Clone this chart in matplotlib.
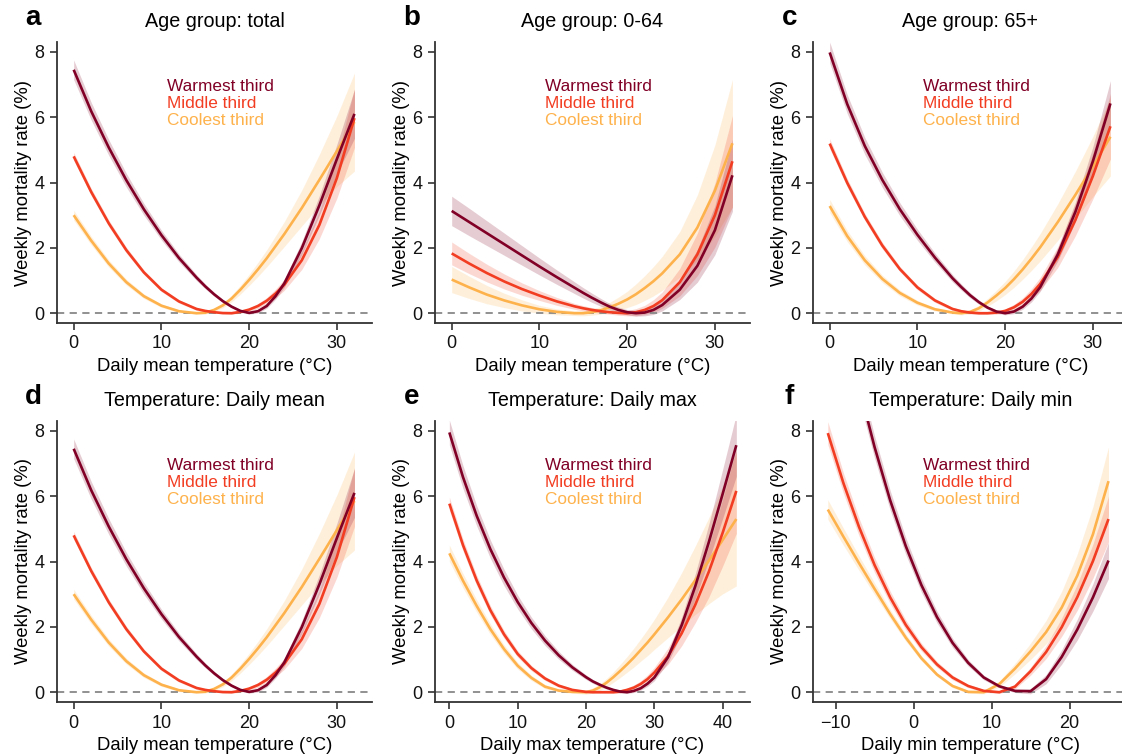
import numpy as np
import matplotlib
matplotlib.use("Agg")
import matplotlib.pyplot as plt

plt.rcParams['font.family'] = ['Liberation Sans', 'DejaVu Sans']

# ---------------- data ----------------
series_names = ["Warmest third", "Middle third", "Coolest third"]
series_colors = ["#800026", "#f23d22", "#feb24c"]

# Daily mean temperature grid (panels a-d), finer around the minima
t_mean = [0, 2, 4, 6, 8, 10, 12, 14, 15, 16, 17, 18, 19, 20, 21, 22, 23, 24, 26, 28, 30, 32]

# Age group total / daily mean (panels a and d)
tot_warm = [7.45, 6.18, 5.07, 4.07, 3.18, 2.39, 1.69, 1.09, 0.82, 0.58, 0.37, 0.20, 0.07, 0.01, 0.06, 0.22,
            0.52, 0.91, 1.99, 3.30, 4.72, 6.10]
tot_mid = [4.80, 3.71, 2.75, 1.93, 1.25, 0.72, 0.36, 0.13, 0.07, 0.03, 0.005, 0.0, 0.04, 0.11, 0.22, 0.38,
           0.60, 0.87, 1.62, 2.70, 4.14, 5.97]
tot_cool = [3.0, 2.22, 1.52, 0.95, 0.52, 0.23, 0.06, 0.0, 0.015, 0.1, 0.24, 0.45, 0.72, 1.02, 1.34, 1.68,
            2.05, 2.42, 3.22, 4.08, 4.96, 5.85]
tot_warm_ci = [0.3, 0.27, 0.24, 0.21, 0.18, 0.15, 0.12, 0.09, 0.075, 0.06, 0.05, 0.04, 0.04, 0.04, 0.055, 0.07,
               0.095, 0.12, 0.2, 0.3, 0.45, 0.75]
tot_mid_ci = [0.12, 0.11, 0.1, 0.09, 0.07, 0.06, 0.05, 0.04, 0.035, 0.03, 0.03, 0.03, 0.04, 0.05, 0.075, 0.1,
              0.135, 0.17, 0.28, 0.42, 0.62, 0.9]
tot_cool_ci = [0.15, 0.13, 0.11, 0.09, 0.07, 0.05, 0.04, 0.03, 0.04, 0.05, 0.075, 0.1, 0.135, 0.17, 0.215, 0.26,
               0.32, 0.38, 0.55, 0.78, 1.08, 1.5]

# Age group 0-64 (panel b)
y064_warm = [3.13, 2.79, 2.45, 2.11, 1.77, 1.43, 1.10, 0.78, 0.62, 0.47, 0.33, 0.20, 0.10, 0.03, 0.0, 0.02,
             0.10, 0.25, 0.72, 1.45, 2.54, 4.22]
y064_mid = [1.83, 1.52, 1.23, 0.97, 0.74, 0.54, 0.36, 0.21, 0.15, 0.10, 0.06, 0.03, 0.01, 0.0, 0.03, 0.10,
            0.22, 0.40, 0.95, 1.80, 3.00, 4.65]
y064_cool = [1.03, 0.79, 0.57, 0.39, 0.24, 0.12, 0.04, 0.0, 0.0, 0.03, 0.09, 0.18, 0.29, 0.42, 0.58, 0.77,
             0.98, 1.22, 1.80, 2.62, 3.75, 5.2]
y064_warm_ci = [0.45, 0.42, 0.38, 0.34, 0.3, 0.26, 0.22, 0.18, 0.16, 0.14, 0.12, 0.1, 0.09, 0.08, 0.09, 0.1,
                0.14, 0.18, 0.3, 0.5, 0.75, 1.1]
y064_mid_ci = [0.35, 0.31, 0.27, 0.23, 0.19, 0.15, 0.12, 0.09, 0.08, 0.07, 0.065, 0.06, 0.07, 0.08, 0.11, 0.14,
               0.195, 0.25, 0.42, 0.65, 0.98, 1.4]
y064_cool_ci = [0.4, 0.34, 0.28, 0.22, 0.17, 0.12, 0.09, 0.07, 0.08, 0.09, 0.12, 0.15, 0.2, 0.25, 0.315, 0.38,
                0.45, 0.52, 0.7, 1.0, 1.4, 1.95]

# Age group 65+ (panel c)
y65_warm = [7.98, 6.40, 5.12, 4.08, 3.18, 2.40, 1.70, 1.07, 0.80, 0.55, 0.34, 0.17, 0.05, 0.0, 0.05, 0.20,
            0.45, 0.80, 1.80, 3.10, 4.65, 6.42]
y65_mid = [5.19, 3.99, 2.95, 2.07, 1.35, 0.79, 0.39, 0.13, 0.06, 0.02, 0.0, 0.0, 0.02, 0.07, 0.18, 0.35,
           0.59, 0.90, 1.72, 2.85, 4.20, 5.72]
y65_cool = [3.28, 2.36, 1.62, 1.05, 0.62, 0.32, 0.12, 0.02, 0.0, 0.04, 0.15, 0.33, 0.54, 0.77, 1.04, 1.34,
            1.67, 2.02, 2.79, 3.62, 4.49, 5.40]
y65_warm_ci = [0.32, 0.29, 0.26, 0.23, 0.2, 0.17, 0.14, 0.11, 0.095, 0.08, 0.065, 0.05, 0.05, 0.05, 0.065, 0.08,
               0.105, 0.13, 0.2, 0.3, 0.45, 0.7]
y65_mid_ci = [0.15, 0.13, 0.11, 0.1, 0.08, 0.07, 0.06, 0.05, 0.045, 0.04, 0.04, 0.04, 0.05, 0.06, 0.09, 0.12,
              0.16, 0.2, 0.32, 0.48, 0.7, 1.0]
y65_cool_ci = [0.2, 0.17, 0.14, 0.11, 0.09, 0.07, 0.05, 0.04, 0.05, 0.06, 0.09, 0.12, 0.16, 0.2, 0.25, 0.3,
               0.36, 0.42, 0.56, 0.72, 0.92, 1.2]

# Daily max temperature (panel e)
t_max = [0, 2, 4, 6, 8, 10, 12, 14, 16, 18, 20, 21, 22, 23, 24, 25, 26, 27, 28, 29, 30, 32, 34, 36, 38, 40, 42]
max_warm = [7.95, 6.58, 5.40, 4.38, 3.51, 2.76, 2.12, 1.58, 1.13, 0.76, 0.46, 0.33, 0.23, 0.14, 0.07, 0.02,
            0.0, 0.04, 0.12, 0.26, 0.45, 1.07, 2.05, 3.25, 4.61, 6.07, 7.56]
max_mid = [5.77, 4.50, 3.42, 2.51, 1.77, 1.17, 0.74, 0.42, 0.20, 0.07, 0.01, 0.0, 0.0, 0.0, 0.0, 0.02,
           0.07, 0.14, 0.25, 0.40, 0.60, 1.10, 1.80, 2.68, 3.70, 4.88, 6.16]
max_cool = [4.25, 3.41, 2.64, 1.93, 1.32, 0.81, 0.44, 0.17, 0.05, 0.01, 0.0, 0.05, 0.15, 0.29, 0.46, 0.65,
            0.85, 1.06, 1.29, 1.52, 1.77, 2.29, 2.84, 3.43, 4.03, 4.66, 5.30]
max_warm_ci = [0.38, 0.35, 0.31, 0.28, 0.25, 0.21, 0.18, 0.15, 0.12, 0.09, 0.07, 0.06, 0.05, 0.045, 0.04, 0.04,
               0.04, 0.05, 0.06, 0.08, 0.1, 0.16, 0.25, 0.38, 0.55, 0.75, 0.95]
max_mid_ci = [0.2, 0.18, 0.16, 0.14, 0.12, 0.1, 0.08, 0.06, 0.05, 0.04, 0.03, 0.03, 0.03, 0.035, 0.04, 0.05,
              0.06, 0.08, 0.1, 0.13, 0.16, 0.25, 0.38, 0.55, 0.78, 1.02, 1.3]
max_cool_ci = [0.25, 0.22, 0.19, 0.16, 0.13, 0.1, 0.08, 0.06, 0.04, 0.04, 0.06, 0.08, 0.1, 0.13, 0.16, 0.2,
               0.24, 0.29, 0.34, 0.4, 0.46, 0.62, 0.82, 1.05, 1.32, 1.65, 2.05]

# Daily min temperature (panel f)
t_min = [-11, -9, -7, -5, -3, -1, 1, 3, 5, 7, 9, 11, 13, 15, 17, 19, 21, 23, 25]
min_warm = [13.85, 11.48, 9.36, 7.50, 5.87, 4.47, 3.28, 2.30, 1.51, 0.90, 0.45, 0.18, 0.04, 0.03, 0.40, 1.08,
            1.92, 2.90, 4.03]
min_mid = [7.93, 6.40, 5.06, 3.89, 2.90, 2.06, 1.38, 0.85, 0.45, 0.19, 0.04, 0.0, 0.17, 0.64, 1.23, 1.99,
           2.91, 4.01, 5.30]
min_cool = [5.59, 4.76, 3.95, 3.16, 2.39, 1.67, 1.04, 0.54, 0.19, 0.01, 0.0, 0.25, 0.72, 1.25, 1.84, 2.59,
            3.57, 4.83, 6.46]
min_warm_ci = [0.45, 0.42, 0.38, 0.34, 0.3, 0.26, 0.22, 0.18, 0.14, 0.1, 0.07, 0.05, 0.05, 0.08, 0.14, 0.22,
               0.32, 0.42, 0.55]
min_mid_ci = [0.35, 0.31, 0.27, 0.23, 0.19, 0.15, 0.12, 0.09, 0.07, 0.05, 0.04, 0.04, 0.07, 0.12, 0.2, 0.28,
              0.4, 0.52, 0.7]
min_cool_ci = [0.3, 0.26, 0.22, 0.18, 0.14, 0.11, 0.08, 0.06, 0.05, 0.04, 0.05, 0.09, 0.16, 0.25, 0.36, 0.5,
               0.66, 0.85, 1.05]

panel_letters = ["a", "b", "c", "d", "e", "f"]
panel_titles = ["Age group: total", "Age group: 0-64", "Age group: 65+",
                "Temperature: Daily mean", "Temperature: Daily max", "Temperature: Daily min"]
x_labels = ["Daily mean temperature (°C)"] * 4 + ["Daily max temperature (°C)", "Daily min temperature (°C)"]
y_label = "Weekly mortality rate (%)"
y_ticks = [0, 2, 4, 6, 8]
x_ticks = [[0, 10, 20, 30]] * 4 + [[0, 10, 20, 30, 40], [-10, 0, 10, 20]]
x_limits = [(-1.9, 34.0)] * 4 + [(-2.1, 44.0), (-12.9, 27.5)]

panels = [
    (t_mean, [tot_warm, tot_mid, tot_cool], [tot_warm_ci, tot_mid_ci, tot_cool_ci]),
    (t_mean, [y064_warm, y064_mid, y064_cool], [y064_warm_ci, y064_mid_ci, y064_cool_ci]),
    (t_mean, [y65_warm, y65_mid, y65_cool], [y65_warm_ci, y65_mid_ci, y65_cool_ci]),
    (t_mean, [tot_warm, tot_mid, tot_cool], [tot_warm_ci, tot_mid_ci, tot_cool_ci]),
    (t_max, [max_warm, max_mid, max_cool], [max_warm_ci, max_mid_ci, max_cool_ci]),
    (t_min, [min_warm, min_mid, min_cool], [min_warm_ci, min_mid_ci, min_cool_ci]),
]

# ---------------- figure ----------------
fig = plt.figure(figsize=(11.22, 7.56), dpi=100)
W, H = 1122, 756
col_left = [57, 435, 813]
ax_w = 315
row_top = [42, 421]
ax_h = 281

spine_col = "#333333"
for i, (tx, ys, cis) in enumerate(panels):
    r, c = divmod(i, 3)
    left = col_left[c] / W
    bottom = 1 - (row_top[r] + ax_h) / H
    ax = fig.add_axes([left, bottom, ax_w / W, ax_h / H])
    x = np.array(tx, dtype=float)
    for k in [2, 1, 0]:
        y = np.array(ys[k]); ci = np.array(cis[k])
        ax.fill_between(x, y - ci, y + ci, color=series_colors[k], alpha=0.2, lw=0, zorder=1)
    for k in [2, 1, 0]:
        ax.plot(x, ys[k], color=series_colors[k], lw=1.9, zorder=3,
                solid_joinstyle='round', solid_capstyle='butt')
    ax.axhline(0, color="#888888", lw=1.3, ls=(0, (4, 3)), zorder=2)
    ax.set_xlim(*x_limits[i])
    ax.set_ylim(-0.3, 8.3)
    ax.set_xticks(x_ticks[i])
    ax.set_yticks(y_ticks)
    ax.set_xticklabels([("\u2212" + str(-v)) if v < 0 else str(v) for v in x_ticks[i]])
    ax.spines["top"].set_visible(False)
    ax.spines["right"].set_visible(False)
    for s in ["left", "bottom"]:
        ax.spines[s].set_color(spine_col)
        ax.spines[s].set_linewidth(1.3)
    ax.tick_params(axis="both", direction="out", length=5, width=1.2, color=spine_col,
                   labelsize=13, labelcolor="#111111", pad=4)
    ax.set_xlabel(x_labels[i], fontsize=13.3, labelpad=4)
    ax.set_ylabel(y_label, fontsize=13.3, labelpad=2)
    ax.set_title(panel_titles[i], fontsize=14.2, pad=11)
    ax.text(-0.075, 1.085, panel_letters[i], transform=ax.transAxes, fontsize=20,
            fontweight="bold", ha="center", va="center")
    for k, name in enumerate(series_names):
        ax.text(0.349, 0.843 - 0.061 * k, name, transform=ax.transAxes, color=series_colors[k],
                fontsize=12.4, ha="left", va="center")

fig.savefig("out.png", dpi=100)
